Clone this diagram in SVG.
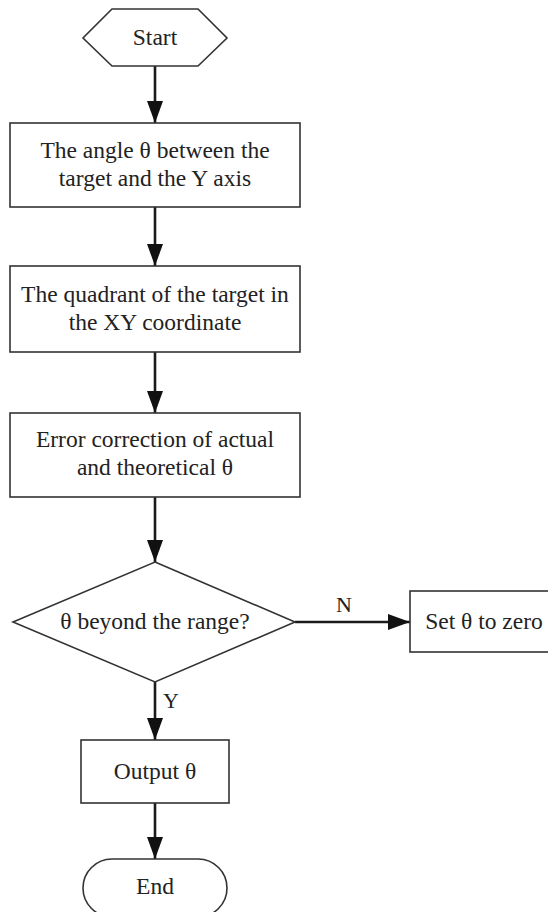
<svg xmlns="http://www.w3.org/2000/svg" width="548" height="912" viewBox="0 0 548 912">
  <style>
    .shape { fill: #ffffff; stroke: #333333; stroke-width: 1.6; }
    .label { font-family: "Liberation Serif", "Times New Roman", serif; font-size: 23.5px; fill: #222222; text-anchor: middle; }
    .edge { fill: none; stroke: #1a1a1a; stroke-width: 2.6; }
    .edge-label { font-family: "Liberation Serif", "Times New Roman", serif; font-size: 22px; fill: #222222; }
  </style>
  <defs>
    <marker id="arrow" markerUnits="userSpaceOnUse" markerWidth="22" markerHeight="18" refX="22" refY="8" orient="auto">
      <path d="M0,0 L22,8 L0,16 Z" fill="#111111"/>
    </marker>
  </defs>
  <rect width="548" height="912" fill="#ffffff"/>

  <!-- connectors -->
  <g id="connectors">
    <line class="edge" x1="155" y1="66" x2="155" y2="123" marker-end="url(#arrow)"/>
    <line class="edge" x1="155" y1="207" x2="155" y2="266" marker-end="url(#arrow)"/>
    <line class="edge" x1="155" y1="352" x2="155" y2="413" marker-end="url(#arrow)"/>
    <line class="edge" x1="155" y1="497" x2="155" y2="562" marker-end="url(#arrow)"/>
    <line class="edge" x1="295" y1="622" x2="410" y2="622" marker-end="url(#arrow)"/>
    <text class="edge-label" x="336" y="612">N</text>
    <line class="edge" x1="155" y1="682" x2="155" y2="740" marker-end="url(#arrow)"/>
    <text class="edge-label" x="163" y="708">Y</text>
    <line class="edge" x1="155" y1="803" x2="155" y2="859" marker-end="url(#arrow)"/>
  </g>

  <!-- start terminal -->
  <g id="start">
    <polygon class="shape" points="112,9 198,9 227,38 198,66 112,66 83,38"/>
    <text class="label" x="155" y="45">Start</text>
  </g>

  <g id="angle">
    <rect class="shape" x="10" y="123" width="290" height="84"/>
    <text class="label" x="155" y="158">The angle θ between the</text>
    <text class="label" x="155" y="186">target and the Y axis</text>
  </g>

  <g id="quadrant">
    <rect class="shape" x="10" y="266" width="290" height="86"/>
    <text class="label" x="155" y="302">The quadrant of the target in</text>
    <text class="label" x="155" y="330">the XY coordinate</text>
  </g>

  <g id="correction">
    <rect class="shape" x="10" y="413" width="290" height="84"/>
    <text class="label" x="155" y="447">Error correction of actual</text>
    <text class="label" x="155" y="475">and theoretical θ</text>
  </g>

  <g id="range-check">
    <polygon class="shape" points="155,562 295,622 155,682 13,622"/>
    <text class="label" x="155" y="629">θ beyond the range?</text>
  </g>

  <g id="set-zero">
    <rect class="shape" x="410" y="591" width="150" height="61"/>
    <text class="label" x="484" y="629">Set θ to zero</text>
  </g>

  <g id="output">
    <rect class="shape" x="81" y="740" width="148" height="63"/>
    <text class="label" x="155" y="779">Output θ</text>
  </g>

  <g id="end">
    <rect class="shape" x="83" y="859" width="144" height="58" rx="29" ry="29"/>
    <text class="label" x="155" y="894">End</text>
  </g>
</svg>
